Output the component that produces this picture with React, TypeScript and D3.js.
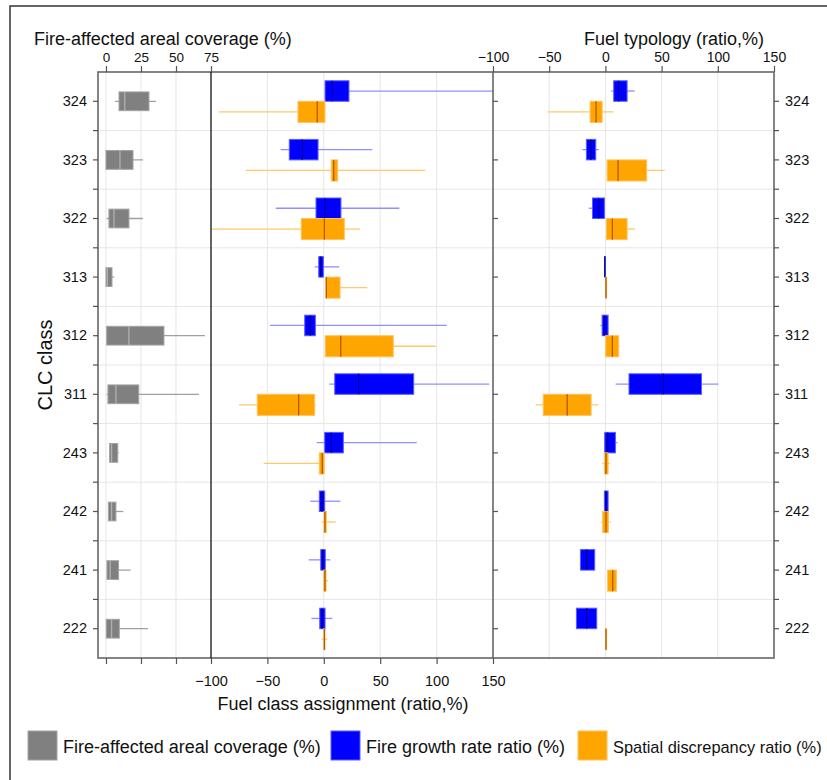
import React, { useRef, useEffect } from "react";
import * as d3 from "d3";

// CLC classes, top to bottom
const clcClasses = ["324", "323", "322", "313", "312", "311", "243", "242", "241", "222"];

// each row: [whisker low, q1, median, q3, whisker high]
const arealCoverage = [
  [6.4, 9.3, 13.4, 30.7, 35.7],
  [0, 0, 10, 19.3, 26.4],
  [0.5, 2.1, 5.7, 16.4, 26.4],
  [0, 0, 1, 4.3, 5.9],
  [0.5, 0.5, 16.4, 41.4, 70.7],
  [0.5, 1.4, 7.1, 23.4, 66.4],
  [2.6, 2.6, 4, 8.4, 9.1],
  [1.7, 1.7, 4, 7.1, 12.4],
  [0.7, 0.7, 3, 9, 17.6],
  [0.2, 0.2, 4, 9.5, 30],
];

const assignGrowth = [
  [1, 1.1, 7.4, 22.3, 150],
  [-38.2, -30.6, -19.1, -5.1, 43],
  [-42.6, -6.9, 1, 15.2, 67],
  [-8, -4.5, -2.7, -0.4, 13.7],
  [-47.7, -16.9, -12, -7.5, 109],
  [4.9, 9.7, 30.9, 79.7, 146.7],
  [-6.3, 0.8, 6.6, 17.3, 82.4],
  [-12, -4, -1.5, 0.8, 14.6],
  [-13.4, -2.7, -1, 1.3, 5.8],
  [-11, -3.6, -1.5, 1.1, 7.5],
];

const assignDiscrepancy = [
  [-93, -22.9, -5.8, 1, 1],
  [-69.2, 6.6, 8.8, 12.3, 90],
  [-99, -20, 0.5, 18.2, 32.1],
  [2, 2, 2.2, 14.4, 38.6],
  [1.3, 1.3, 15, 61.6, 99.2],
  [-75.2, -59, -22.3, -8.1, -6.9],
  [-53.3, -4, -1.3, 0.4, 0.4],
  [-1.9, 0.2, 1, 2.2, 10.5],
  [0, 0, 1, 2, 3.7],
  [-1.9, 0.2, 0.5, 0.9, 3.1],
];

const typologyGrowth = [
  [5.1, 7.4, 11.7, 19.3, 26],
  [-20.4, -16.9, -13, -8.6, -5.9],
  [-14.8, -11.5, -6, -0.9, -0.9],
  [-0.8, -0.8, -0.5, -0.2, -0.2],
  [-4.4, -2.9, -1, 2.4, 2.4],
  [9.1, 21, 51.5, 85.5, 100.6],
  [-0.6, -0.6, 2, 8.9, 10.7],
  [-0.9, -0.9, 0.5, 2.4, 2.4],
  [-22.2, -22.2, -16.6, -9.5, -9.5],
  [-25.8, -25.8, -16.6, -7.7, -7.7],
];

const typologyDiscrepancy = [
  [-51.5, -13.6, -8.3, -2.9, 7.1],
  [1.5, 1.5, 11.3, 36.7, 52.7],
  [0.9, 0.9, 6.2, 19.3, 26.4],
  [0.2, 0.2, 0.5, 0.9, 0.9],
  [0.3, 0.3, 6.2, 11.8, 12.7],
  [-61.9, -55.3, -34, -12.7, -6.2],
  [-2.7, -0.9, 0.5, 2.4, 4],
  [-4.2, -2.4, 0.5, 2.7, 4.7],
  [2, 2, 6.5, 9.8, 9.8],
  [0.2, 0.2, 0.5, 0.9, 0.9],
];

const coverageTicks = [0, 25, 50, 75];
const ratioTicks = [-100, -50, 0, 50, 100, 150];
const legendItems = [
  "Fire-affected areal coverage (%)",
  "Fire growth rate ratio (%)",
  "Spatial discrepancy ratio (%)",
];

const FONT = "'Liberation Sans', Arial, Helvetica, sans-serif";

const styles = {
  gray: { fill: "#808080", stroke: "#a3a3a3", whisker: "#a0a0a0", median: "#b0b0b0" },
  blue: { fill: "#0000ff", stroke: "#5c5cff", whisker: "#8f8fff", median: "#00009a" },
  orange: { fill: "#ffa500", stroke: "#ffc25c", whisker: "#ffc86a", median: "#b35a00" },
};

const App = () => {
  const svgRef = useRef<SVGSVGElement>(null);

  useEffect(() => {
    const W = 827;
    const H = 780;
    const svg = d3.select(svgRef.current);
    svg.selectAll("*").remove();
    svg.attr("width", W).attr("height", H).attr("viewBox", `0 0 ${W} ${H}`);

    // plot area and panel dividers
    const plotL = 98, plotR = 774, plotT = 72, plotB = 658;
    const div1 = 211, div2 = 493;

    const xCov = d3.scaleLinear().domain([-5.7, 75]).range([plotL, div1]);
    const xAssign = d3.scaleLinear().domain([-100, 150]).range([div1, div2]);
    const xTypo = d3.scaleLinear().domain([-100, 150]).range([div2, plotR]);
    const y = d3.scaleBand().domain(clcClasses).range([plotT, plotB]);
    const bw = y.bandwidth();

    svg.append("rect").attr("width", W).attr("height", H).attr("fill", "#fff");

    // outer frame (runs off the right / bottom edges)
    svg.append("rect")
      .attr("x", 10).attr("y", 6).attr("width", 830).attr("height", 800)
      .attr("fill", "none").attr("stroke", "#333").attr("stroke-width", 1.5);

    // grid
    const grid = svg.append("g").attr("stroke", "#e6e6e6").attr("stroke-width", 1);
    clcClasses.slice(1).forEach((c) => {
      const yy = y(c)!;
      grid.append("line").attr("x1", plotL).attr("x2", plotR).attr("y1", yy).attr("y2", yy);
    });
    const vGrid = [
      ...[0, 25, 50].map((v) => xCov(v)),
      ...[-50, 0, 50, 100].map((v) => xAssign(v)),
      ...[-50, 0, 50, 100].map((v) => xTypo(v)),
    ];
    vGrid.forEach((xx) => {
      grid.append("line").attr("x1", xx).attr("x2", xx).attr("y1", plotT).attr("y2", plotB);
    });

    // clip paths per panel
    const defs = svg.append("defs");
    const panels: [string, number, number][] = [
      ["clipCov", plotL, div1],
      ["clipAssign", div1, div2],
      ["clipTypo", div2, plotR],
    ];
    panels.forEach(([id, a, b]) => {
      defs.append("clipPath").attr("id", id)
        .append("rect").attr("x", a).attr("y", plotT).attr("width", b - a).attr("height", plotB - plotT);
    });

    const drawBox = (
      g: any,
      xs: d3.ScaleLinear<number, number>,
      s: number[],
      y0: number,
      y1: number,
      st: { fill: string; stroke: string; whisker: string; median: string }
    ) => {
      const [lo, q1, med, q3, hi] = s;
      const ym = (y0 + y1) / 2;
      g.append("line")
        .attr("x1", xs(lo)).attr("x2", xs(hi)).attr("y1", ym).attr("y2", ym)
        .attr("stroke", st.whisker).attr("stroke-width", 1.3);
      const x0 = xs(q1);
      const w = Math.max(xs(q3) - x0, 1);
      g.append("rect")
        .attr("x", x0).attr("y", y0).attr("width", w).attr("height", y1 - y0)
        .attr("fill", st.fill).attr("stroke", st.stroke).attr("stroke-width", 1);
      g.append("line")
        .attr("x1", xs(med)).attr("x2", xs(med)).attr("y1", y0).attr("y2", y1)
        .attr("stroke", st.median).attr("stroke-width", 1.3);
    };

    const gCov = svg.append("g").attr("clip-path", "url(#clipCov)");
    const gAssign = svg.append("g").attr("clip-path", "url(#clipAssign)");
    const gTypo = svg.append("g").attr("clip-path", "url(#clipTypo)");

    clcClasses.forEach((c, i) => {
      const cy = y(c)! + bw / 2;
      drawBox(gCov, xCov, arealCoverage[i], cy - 0.16 * bw, cy + 0.16 * bw, styles.gray);
      drawBox(gAssign, xAssign, assignGrowth[i], cy - 0.35 * bw, cy, styles.blue);
      drawBox(gAssign, xAssign, assignDiscrepancy[i], cy, cy + 0.36 * bw, styles.orange);
      drawBox(gTypo, xTypo, typologyGrowth[i], cy - 0.35 * bw, cy, styles.blue);
      drawBox(gTypo, xTypo, typologyDiscrepancy[i], cy, cy + 0.36 * bw, styles.orange);
    });

    // frame and dividers
    svg.append("rect")
      .attr("x", plotL).attr("y", plotT).attr("width", plotR - plotL).attr("height", plotB - plotT)
      .attr("fill", "none").attr("stroke", "#666").attr("stroke-width", 1.6);
    svg.append("line")
      .attr("x1", div1).attr("x2", div1).attr("y1", plotT).attr("y2", plotB)
      .attr("stroke", "#111").attr("stroke-width", 1.3);
    svg.append("line")
      .attr("x1", div2).attr("x2", div2).attr("y1", plotT).attr("y2", plotB)
      .attr("stroke", "#666").attr("stroke-width", 1.6);

    const styleAxis = (g: any, size: number) => {
      g.select(".domain").remove();
      g.attr("font-family", FONT).attr("font-size", size);
      g.selectAll(".tick line").attr("stroke", "#555").attr("stroke-width", 1.2);
      g.selectAll(".tick text").attr("fill", "#111");
    };

    // top axes
    svg.append("g").attr("transform", `translate(0,${plotT})`)
      .call(d3.axisTop(xCov).tickValues(coverageTicks).tickSize(6).tickPadding(4))
      .call((g) => styleAxis(g, 13.5));
    svg.append("g").attr("transform", `translate(0,${plotT})`)
      .call(d3.axisTop(xTypo).tickValues(ratioTicks).tickSize(6).tickPadding(4))
      .call((g) => styleAxis(g, 14));

    // bottom axes
    svg.append("g").attr("transform", `translate(0,${plotB})`)
      .call(d3.axisBottom(xCov).tickValues([0, 25, 50]).tickFormat(() => "").tickSize(6))
      .call((g) => styleAxis(g, 14));
    svg.append("g").attr("transform", `translate(0,${plotB})`)
      .call(d3.axisBottom(xAssign).tickValues(ratioTicks).tickSize(6).tickPadding(12))
      .call((g) => styleAxis(g, 14.5));

    // left / right category axes
    svg.append("g").attr("transform", `translate(${plotL},0)`)
      .call(d3.axisLeft(y).tickSize(5).tickPadding(6))
      .call((g) => styleAxis(g, 14.5));
    svg.append("g").attr("transform", `translate(${plotR},0)`)
      .call(d3.axisRight(y).tickSize(5).tickPadding(6))
      .call((g) => styleAxis(g, 14.5));

    // minor ticks on row boundaries + inner ticks on the middle divider
    const minor = svg.append("g").attr("stroke", "#555").attr("stroke-width", 1.2);
    clcClasses.slice(1).forEach((c) => {
      const yy = y(c)!;
      minor.append("line").attr("x1", plotL - 5).attr("x2", plotL).attr("y1", yy).attr("y2", yy);
      minor.append("line").attr("x1", plotR).attr("x2", plotR + 5).attr("y1", yy).attr("y2", yy);
    });
    clcClasses.forEach((c) => {
      const yy = y(c)! + bw / 2;
      minor.append("line").attr("x1", div2).attr("x2", div2 + 5).attr("y1", yy).attr("y2", yy);
    });

    // titles
    const txt = (x: number, yy: number, s: string, size: number, anchor = "start") =>
      svg.append("text")
        .attr("x", x).attr("y", yy).attr("text-anchor", anchor)
        .attr("font-family", FONT).attr("font-size", size).attr("fill", "#111")
        .text(s);

    txt(34, 45, "Fire-affected areal coverage (%)", 18);
    txt(584, 45, "Fuel typology (ratio,%)", 18);
    txt(343, 710, "Fuel class assignment (ratio,%)", 18, "middle");
    txt(0, 0, "CLC class", 20, "middle")
      .attr("transform", `translate(52,${(plotT + plotB) / 2}) rotate(-90)`);

    // legend (last label set smaller so it stays inside the page)
    const legendX = [28, 331, 578];
    const legendSizes = [18, 18, 16.4];
    const legendColors = [styles.gray, styles.blue, styles.orange];
    legendItems.forEach((label, i) => {
      svg.append("rect")
        .attr("x", legendX[i]).attr("y", 731).attr("width", 29).attr("height", 29)
        .attr("fill", legendColors[i].fill).attr("stroke", legendColors[i].stroke);
      txt(legendX[i] + 35, 753, label, legendSizes[i]);
    });
  }, []);

  return <svg ref={svgRef} style={{ position: "absolute", left: 0, top: 0 }} />;
};

export default App;
